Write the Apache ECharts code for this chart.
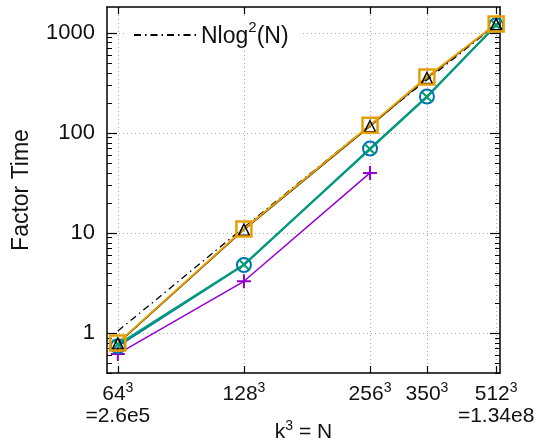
<!DOCTYPE html>
<html>
<head>
<meta charset="utf-8">
<script src="https://cdn.jsdelivr.net/npm/echarts@6/dist/echarts.min.js"></script>
<style>
  html, body { margin: 0; padding: 0; background: #fff; }
  #chart { width: 539px; height: 441px; }
</style>
</head>
<body>
<div id="chart"></div>
<script>
// k values (N = k^3) and their tick labels
const kValues = [64, 128, 256, 350, 512];
const kLabels = ['{b|64}{s|3}\n{b|=2.6e5}', '{b|128}{s|3}', '{b|256}{s|3}', '{b|350}{s|3}', '{b|512}{s|3}\n{b|=1.34e8}'];

// y ticks
const yMajor = [1, 10, 100, 1000];
const yMinor = [0.4, 0.5, 0.6, 0.7, 0.8, 0.9, 2, 3, 4, 5, 6, 7, 8, 9,
  20, 30, 40, 50, 60, 70, 80, 90, 200, 300, 400, 500, 600, 700, 800, 900];

// series values
const refLine = [1.05, 11.4, 120, 340, 1210];      // Nlog^2(N)
const triVals = [0.79, 10.8, 117, 355, 1225];      // black triangles
const sqVals = [0.8, 11.0, 120, 363, 1230];        // orange squares
const circVals = [0.74, 4.8, 70, 232, 1195];       // blue circles
const crossVals = [0.77, 4.85, 69, 229, 1200];     // teal crosses
const plusVals = [0.62, 3.3, 40];                  // purple plus

const pairs = vals => vals.map((v, i) => [kValues[i], v]);

const font = 'Liberation Sans, Arial, Helvetica, sans-serif';
const gridLine = { show: true, lineStyle: { color: '#aaa', type: [1, 3], width: 1 } };
const axisLine = { show: true, lineStyle: { color: '#000', width: 1.5 } };
const supRich = {
  b: { fontSize: 21, color: '#111', lineHeight: 22, fontFamily: font, verticalAlign: 'bottom' },
  s: { fontSize: 14, color: '#111', lineHeight: 22, fontFamily: font, verticalAlign: 'top', padding: [-2, 0, 0, 0] }
};

const xMin = 60.3, xMax = 523;
const yMin = 0.4, yMax = 1820;

const labelFor = v => {
  const i = kValues.findIndex(k => Math.abs(k - v) < 0.5);
  return i >= 0 ? kLabels[i] : '';
};

const chart = echarts.init(document.getElementById('chart'));
chart.setOption({
  animation: false,
  textStyle: { fontFamily: font },
  grid: { left: 107, right: 39, top: 7, bottom: 68, containLabel: false, outerBoundsMode: 'none' },
  legend: {
    left: 125, top: 17,
    data: ['Nlog2(N)'],
    itemWidth: 62, itemHeight: 14, itemGap: 14,
    itemStyle: { opacity: 0, color: 'rgba(0,0,0,0)', borderWidth: 0 },
    backgroundColor: '#fff',
    padding: [3, 12, 3, 8],
    formatter: () => '{b|Nlog}{s|2}{b|(N)}',
    textStyle: {
      fontSize: 23, color: '#111', fontFamily: font,
      rich: {
        b: { fontSize: 23, color: '#111', lineHeight: 26, fontFamily: font, verticalAlign: 'bottom' },
        s: { fontSize: 15, color: '#111', lineHeight: 26, fontFamily: font, verticalAlign: 'top', padding: [-2, 0, 0, 0] }
      }
    }
  },
  xAxis: [
    {
      type: 'log', logBase: 2, min: xMin, max: xMax,
      position: 'bottom',
      name: '{b|k}{s|3}{b| = N}', nameLocation: 'middle', nameGap: 48, nameMoveOverlap: false,
      nameTextStyle: { fontSize: 21, color: '#111', rich: supRich },
      axisLine: axisLine,
      axisTick: { inside: true, length: 7, customValues: kValues, lineStyle: { color: '#000', width: 1.2 } },
      axisLabel: {
        customValues: kValues, formatter: labelFor,
        fontSize: 21, color: '#111', lineHeight: 22, margin: 10, rich: supRich
      },
      splitLine: gridLine
    },
    {
      type: 'log', logBase: 2, min: xMin, max: xMax,
      position: 'top',
      axisLine: axisLine,
      axisTick: { inside: true, length: 7, customValues: kValues, lineStyle: { color: '#000', width: 1.2 } },
      axisLabel: { show: false },
      splitLine: { show: false }
    }
  ],
  yAxis: [
    {
      type: 'log', logBase: 10, min: yMin, max: yMax,
      position: 'left',
      name: 'Factor Time', nameLocation: 'middle', nameGap: 74, nameMoveOverlap: false,
      nameTextStyle: { fontSize: 23, color: '#111' },
      axisLine: axisLine,
      axisTick: { inside: true, length: 10, customValues: yMajor, lineStyle: { color: '#000', width: 1.2 } },
      axisLabel: { customValues: yMajor, formatter: v => String(Math.round(v)), fontSize: 22, color: '#111', margin: 12 },
      splitLine: gridLine
    },
    {
      type: 'log', logBase: 10, min: yMin, max: yMax,
      position: 'left',
      axisLine: { show: false },
      axisTick: { inside: true, length: 5, customValues: yMinor, lineStyle: { color: '#000', width: 1 } },
      axisLabel: { show: false },
      splitLine: { show: false }
    },
    {
      type: 'log', logBase: 10, min: yMin, max: yMax,
      position: 'right',
      axisLine: axisLine,
      axisTick: { inside: true, length: 10, customValues: yMajor, lineStyle: { color: '#000', width: 1.2 } },
      axisLabel: { show: false },
      splitLine: { show: false }
    },
    {
      type: 'log', logBase: 10, min: yMin, max: yMax,
      position: 'right',
      axisLine: { show: false },
      axisTick: { inside: true, length: 5, customValues: yMinor, lineStyle: { color: '#000', width: 1 } },
      axisLabel: { show: false },
      splitLine: { show: false }
    }
  ],
  series: [
    {
      name: 'Nlog2(N)', type: 'line', data: pairs(refLine),
      symbol: 'none', z: 1,
      lineStyle: { color: '#000', width: 1.3, type: [7, 4, 1.5, 4] },
      itemStyle: { color: '#000' }
    },
    {
      name: 'purple', type: 'line', data: pairs(plusVals),
      symbol: 'path://M5,0L5,10M0,5L10,5', symbolSize: 14,
      lineStyle: { color: '#9400D3', width: 1.5 },
      itemStyle: { color: 'rgba(0,0,0,0)', borderColor: '#9400D3', borderWidth: 2 }
    },
    {
      name: 'blue', type: 'line', data: pairs(circVals),
      symbol: 'circle', symbolSize: 14,
      lineStyle: { color: '#0072B2', width: 2 },
      itemStyle: { color: 'rgba(0,0,0,0)', borderColor: '#0072B2', borderWidth: 2 }
    },
    {
      name: 'teal', type: 'line', data: pairs(crossVals),
      symbol: 'path://M0,0L10,10M10,0L0,10', symbolSize: 10,
      lineStyle: { color: '#009E73', width: 2 },
      itemStyle: { color: 'rgba(0,0,0,0)', borderColor: '#009E73', borderWidth: 2 }
    },
    {
      name: 'black', type: 'line', data: pairs(triVals),
      symbol: 'triangle', symbolSize: 11,
      lineStyle: { color: '#000', width: 1.5 },
      itemStyle: { color: 'rgba(0,0,0,0)', borderColor: '#000', borderWidth: 1.5 }
    },
    {
      name: 'orange', type: 'line', data: pairs(sqVals),
      symbol: 'rect', symbolSize: 15,
      lineStyle: { color: '#E69F00', width: 2 },
      itemStyle: { color: 'rgba(0,0,0,0)', borderColor: '#E69F00', borderWidth: 2.5 }
    }
  ]
});
</script>
</body>
</html>
